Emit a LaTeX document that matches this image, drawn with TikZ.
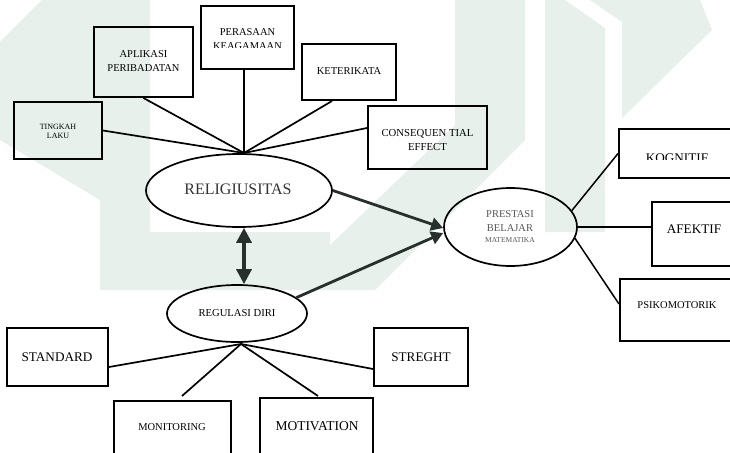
\documentclass[tikz,border=0pt]{standalone}
\usepackage{fontspec}
\setmainfont{Liberation Serif}
\usetikzlibrary{arrows.meta,calc,shapes.geometric}
\definecolor{wm}{HTML}{E7F0EB}
\definecolor{arr}{HTML}{27302C}
\definecolor{txtgray}{HTML}{333333}
\definecolor{txtlight}{HTML}{555555}
\tikzset{
  box/.style={draw=black,line width=2pt,rectangle,inner sep=0pt},
  oval/.style={draw=black,line width=1.7pt,ellipse,inner sep=0pt},
  link/.style={draw=black,line width=1.7pt},
  txt/.style={inner sep=0pt,align=center,text=black},
  bigarrow/.style={draw=arr,line width=2.8pt,-{Triangle[length=12pt,width=13pt]}},
  dblarrow/.style={draw=arr,line width=3.2pt,{Triangle[length=15pt,width=15pt]}-{Triangle[length=15pt,width=15pt]}},
}
\begin{document}
\begin{tikzpicture}[x=1pt,y=-1pt]
\path[use as bounding box] (0,0) rectangle (730,452);
\clip (0,0) rectangle (730,452);
% watermark
\fill[wm] (0,42) -- (42,0) -- (150,0) -- (150,232) -- (330,232) -- (330,290) -- (100,290) -- (100,200) -- (0,140) -- cycle;
\fill[wm] (455,0) -- (525,0) -- (525,140) -- (375,290) -- (330,290) -- (330,245) -- (455,125) -- cycle;
\fill[wm] (545,0) -- (565,0) -- (605,28) -- (605,232) -- (545,232) -- cycle;
\fill[wm] (590,0) -- (700,0) -- (712,30) -- (622,118) -- (622,22) -- cycle;

% boxes
\node[box,minimum width=88pt,minimum height=57pt] (tin) at (58,130.5) {};
\node[box,minimum width=99pt,minimum height=70pt] (apl) at (143.5,62) {};
\node[box,minimum width=93pt,minimum height=63pt] (per) at (247.5,37.5) {};
\node[box,minimum width=94pt,minimum height=56pt] (ket) at (349,72) {};
\node[box,minimum width=119pt,minimum height=63pt] (con) at (427.5,137.5) {};
\node[box,minimum width=130pt,minimum height=49pt] (kog) at (684,153.5) {};
\node[box,minimum width=100pt,minimum height=64pt] (afe) at (702,234) {};
\node[box,minimum width=130pt,minimum height=62pt] (psi) at (685,310) {};
\node[box,minimum width=101pt,minimum height=58pt] (std) at (57.5,357) {};
\node[box,minimum width=94pt,minimum height=58pt] (str) at (421,357) {};
\node[box,minimum width=117pt,minimum height=69pt] (mon) at (172.5,435.5) {};
\node[box,minimum width=113pt,minimum height=72pt] (mot) at (316.5,434) {};

% ellipses
\node[oval,minimum width=186pt,minimum height=73pt] (rel) at (239,190.5) {};
\node[oval,minimum width=140pt,minimum height=57pt] (reg) at (237,313.5) {};
\node[oval,minimum width=133pt,minimum height=78pt] (pres) at (510.5,227) {};

% hubs
\coordinate (hubR) at (244,153);
\coordinate (hubG) at (241,344);

% texts
\node[txt,font=\fontsize{8}{9}\selectfont] (tTin) at (58,131.5) {TINGKAH\\LAKU};
\node[txt,font=\fontsize{10.5}{14}\selectfont] (tApl) at (143.5,61) {APLIKASI\\PERIBADATAN};
\begin{scope}
\clip (201,6) rectangle (294,47.6);
\node[txt,font=\fontsize{10.5}{14}\selectfont] (tPer) at (247.5,39.5) {PERASAAN\\KEAGAMAAN};
\end{scope}
\node[txt,font=\fontsize{10.5}{14}\selectfont] (tKet) at (349,71) {KETERIKATA};
\node[txt,font=\fontsize{10.7}{14}\selectfont] (tCon) at (427.5,140) {CONSEQUEN TIAL\\EFFECT};
\begin{scope}
\clip (619,129) rectangle (730,159.3);
\node[txt,font=\fontsize{13.2}{14}\selectfont] (tKog) at (677,157.8) {KOGNITIF};
\end{scope}
\node[txt,font=\fontsize{13.2}{14}\selectfont] (tAfe) at (694,229) {AFEKTIF};
\node[txt,font=\fontsize{10.5}{14}\selectfont] (tPsi) at (677,305) {PSIKOMOTORIK};
\node[txt,font=\fontsize{13.2}{14}\selectfont] (tStd) at (57,357) {STANDARD};
\node[txt,font=\fontsize{13.2}{14}\selectfont] (tStr) at (421,357) {STREGHT};
\node[txt,font=\fontsize{10.5}{14}\selectfont] (tMon) at (172,427) {MONITORING};
\node[txt,font=\fontsize{13.5}{14}\selectfont] (tMot) at (317,426) {MOTIVATION};
\node[txt,text=txtgray,font=\fontsize{16}{18}\selectfont] (tRel) at (238,189) {RELIGIUSITAS};
\node[txt,font=\fontsize{10.6}{14}\selectfont] (tReg) at (237,313) {REGULASI DIRI};
\node[txt,text=txtlight,font=\fontsize{10.5}{14}\selectfont] (tPr1) at (510,221) {PRESTASI\\BELAJAR};
\node[txt,text=txtlight,font=\fontsize{7.5}{9}\selectfont] (tPr2) at (510,240) {MATEMATIKA};

% connectors religiusitas
\draw[link] (hubR) -- (tin.east);
\draw[link] (hubR) -- (apl.south);
\draw[link] (hubR) -- (per.south -| hubR);
\draw[link] (hubR) -- ([xshift=-17pt]ket.south);
\draw[link] (hubR) -- ([yshift=9.5pt]con.west);

% connectors regulasi
\draw[link] (hubG) -- ([yshift=-10pt]std.east);
\draw[link] (hubG) -- ([xshift=9.5pt,yshift=4pt]mon.north);
\draw[link] (hubG) -- ([xshift=1.5pt,yshift=1pt]mot.north);
\draw[link] (hubG) -- ([yshift=-12pt]str.west);

% connectors prestasi
\draw[link,line width=1.5pt] (pres.15) -- (kog.west);
\draw[link,line width=1.5pt] (pres.east) -- (pres.east -| afe.west);
\draw[link,line width=1.5pt] (pres.-10) -- ([yshift=6pt]psi.west);

% arrows
\draw[bigarrow] (rel.east) -- ([yshift=-1pt]pres.west);
\draw[bigarrow] (reg.15) -- ([yshift=-6pt]pres.west);
\draw[dblarrow] (rel.south -| hubR) -- (reg.north -| hubR);
\end{tikzpicture}
\end{document}
